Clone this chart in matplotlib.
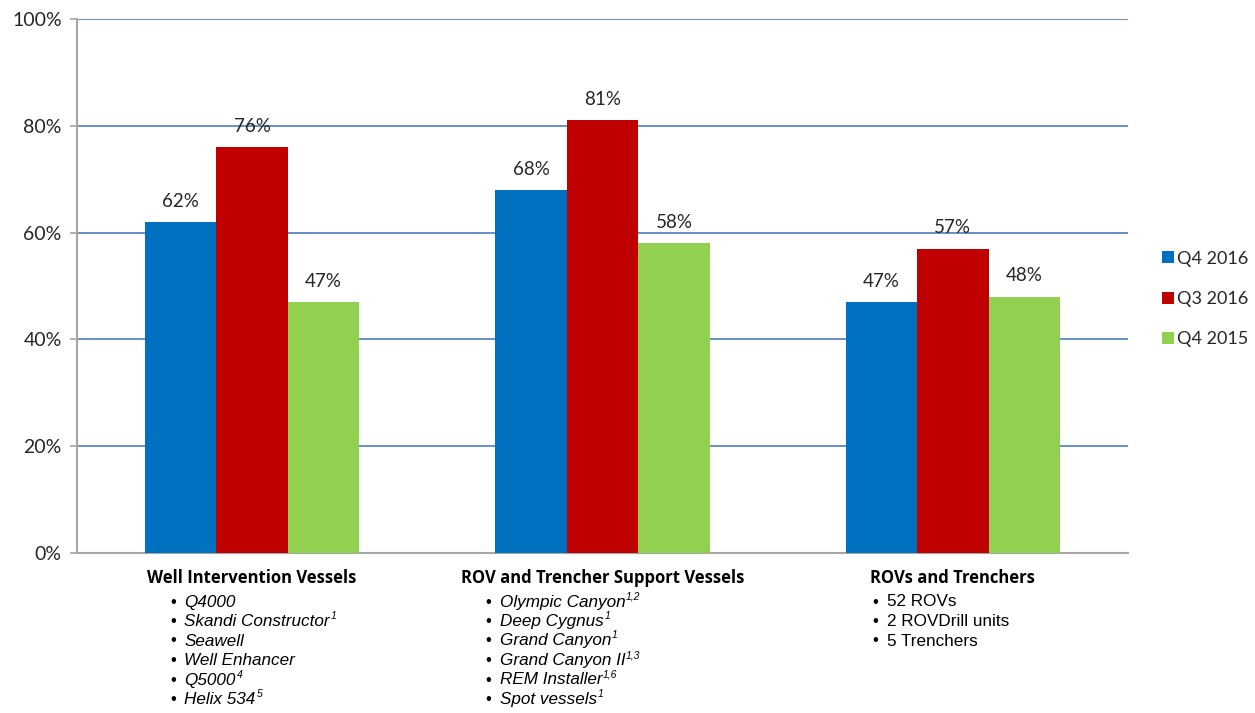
import matplotlib
matplotlib.use("Agg")
import matplotlib.pyplot as plt
from matplotlib.patches import Patch
from matplotlib.transforms import blended_transform_factory
import numpy as np

categories = ["Well Intervention Vessels", "ROV and Trencher Support Vessels", "ROVs and Trenchers"]
series_names = ["Q4 2016", "Q3 2016", "Q4 2015"]
q4_2016 = [62, 68, 47]
q3_2016 = [76, 81, 57]
q4_2015 = [47, 58, 48]
series_values = [q4_2016, q3_2016, q4_2015]
colors = ["#0070C0", "#C00000", "#92D050"]

item_names = [
    ["Q4000", "Skandi Constructor", "Seawell", "Well Enhancer", "Q5000", "Helix 534"],
    ["Olympic Canyon", "Deep Cygnus", "Grand Canyon", "Grand Canyon II", "REM Installer", "Spot vessels"],
    ["52 ROVs", "2 ROVDrill units", "5 Trenchers"],
]
item_notes = [
    ["", "1", "", "", "4", "5"],
    ["1,2", "1", "1", "1,3", "1,6", "1"],
    ["", "", ""],
]
items_italic = [True, True, False]
yticks = [0, 20, 40, 60, 80, 100]

fig = plt.figure(figsize=(12.55, 7.13), dpi=100)
ax = fig.add_axes([77 / 1255, 1 - 553 / 713, (1128 - 77) / 1255, (553 - 19) / 713])

x = np.arange(len(categories))
w = 0.204
for i, (name, vals, c) in enumerate(zip(series_names, series_values, colors)):
    pos = x + (i - 1) * w
    ax.bar(pos, vals, width=w, color=c, label=name, zorder=3)
    for p, v in zip(pos, vals):
        ax.annotate(f"{v}%", (p, v), xytext=(0, 15), textcoords="offset points",
                    ha="center", va="center", fontsize=13.5, family="Lato", color="#262626", zorder=4)

ax.set_xlim(-0.5, 2.5)
ax.set_ylim(0, 100)
ax.set_yticks(yticks)
ax.set_yticklabels([f"{t}%" for t in yticks], fontsize=14, family="Lato", color="#262626")
ax.yaxis.grid(True, color="#4A7EBB", linewidth=1.2, zorder=0)
ax.set_axisbelow(True)
ax.set_xticks([])
for s in ["top", "right"]:
    ax.spines[s].set_visible(False)
ax.spines["left"].set_color("#A6A6A6")
ax.spines["left"].set_linewidth(1.5)
ax.spines["bottom"].set_color("#A6A6A6")
ax.spines["bottom"].set_linewidth(1.5)
ax.tick_params(axis="y", length=5, width=1.2, color="#A6A6A6", pad=6)

trans = blended_transform_factory(ax.transData, fig.transFigure)
bullet_off = [-0.234, -0.334, -0.229]
renderer = fig.canvas.get_renderer()
for i, cat in enumerate(categories):
    fig.text(i, 1 - 578 / 713, cat, transform=trans, ha="center", va="center",
             fontsize=12, family="Open Sans", fontweight="bold", color="#000000")
    for j, (nm, note) in enumerate(zip(item_names[i], item_notes[i])):
        yy = 1 - (602 + j * 19.5) / 713
        fig.text(i + bullet_off[i], yy, "•", transform=trans, ha="left", va="center",
                 fontsize=12, family="Liberation Sans", color="#000000")
        t = fig.text(i + bullet_off[i] + 0.040, yy, nm, transform=trans, ha="left", va="center",
                     fontsize=12.3, family="Liberation Sans",
                     style="italic" if items_italic[i] else "normal", color="#000000")
        if note:
            bb = t.get_window_extent(renderer=renderer)
            fig.text((bb.x1 + 1) / fig.bbox.width, (bb.y1 - 2) / fig.bbox.height, note,
                     ha="left", va="center", fontsize=7.5, family="Liberation Sans",
                     style="italic", color="#000000")

handles = [Patch(facecolor=c, edgecolor="none") for c in colors]
fig.legend(handles, series_names, loc="center left", bbox_to_anchor=(1162 / 1255, 1 - 299 / 713),
           frameon=False, borderpad=0, borderaxespad=0, prop={"family": "Lato", "size": 13},
           handlelength=0.65, handleheight=0.65, handletextpad=0.2, labelspacing=1.35,
           labelcolor="#262626")

fig.savefig("out.png", dpi=100)
